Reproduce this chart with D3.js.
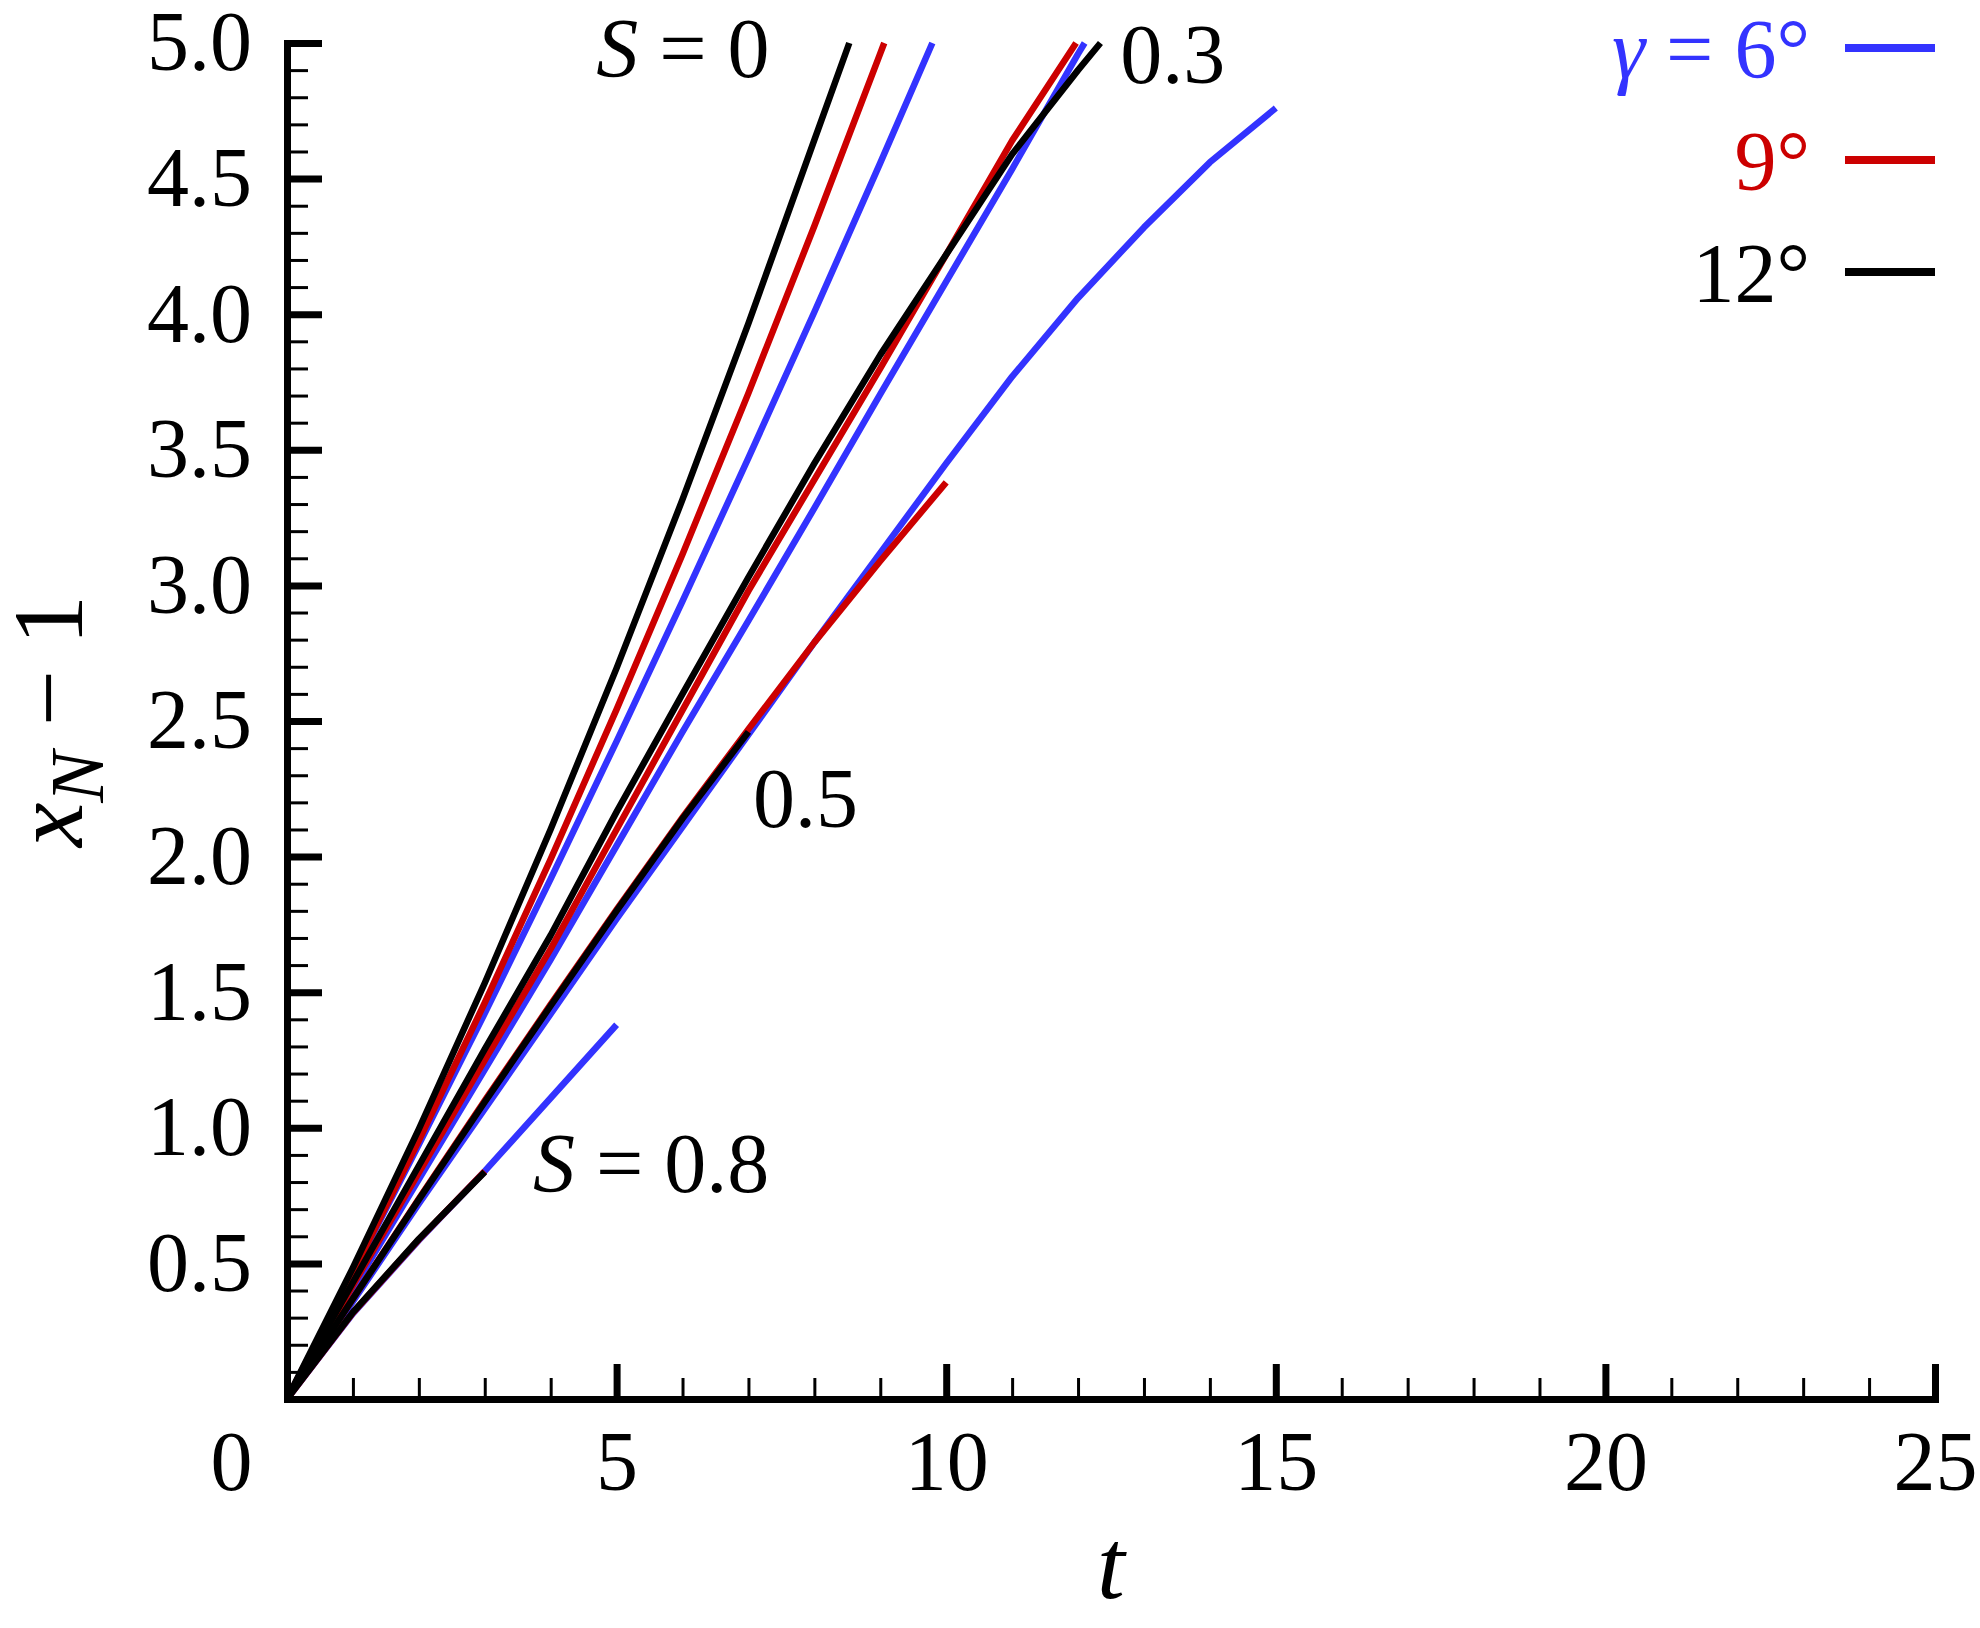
<!DOCTYPE html>
<html>
<head>
<meta charset="utf-8">
<script src="https://cdn.jsdelivr.net/npm/d3@7"></script>
<style>
  body { margin: 0; background: #fff; }
  svg { display: block; font-family: "Liberation Serif", "Times New Roman", serif; }
</style>
</head>
<body>
<div id="chart-area"></div>
<script>
// series values: [t, xN - 1]
const s0Gamma6 = [[0,0],[1,0.463],[2,0.938],[3,1.422],[4,1.918],[5,2.425],[6,2.942],[7,3.47],[8,4.008],[9,4.558],[9.79,5.0]]
const s0Gamma9 = [[0,0],[1,0.466],[2,0.953],[3,1.461],[4,1.991],[5,2.543],[6,3.115],[7,3.709],[8,4.325],[9,4.962],[9.06,5.0]]
const s0Gamma12 = [[0,0],[1,0.484],[2,0.995],[3,1.534],[4,2.101],[5,2.695],[6,3.317],[7,3.966],[8,4.643],[8.53,5.0]]

const s03Gamma6 = [[0,0],[1,0.405],[2,0.81],[3,1.215],[4,1.62],[5,2.04],[6,2.46],[7,2.87],[8,3.285],[9,3.705],[10,4.12],[11,4.535],[12,4.96],[12.1,5.0]]
const s03Gamma9 = [[0,0],[1,0.42],[2,0.835],[3,1.25],[4,1.66],[5,2.1],[6,2.54],[7,2.98],[8,3.39],[9,3.8],[10,4.22],[11,4.64],[11.97,5.0]]
const s03Gamma12 = [[0,0],[1,0.43],[2,0.86],[3,1.29],[4,1.71],[5,2.165],[6,2.6],[7,3.03],[8,3.45],[9,3.85],[10,4.22],[11,4.59],[12,4.9],[12.34,5.0]]

const s05Gamma6 = [[0,0],[1,0.36],[2,0.72],[3,1.07],[4,1.42],[5,1.77],[6,2.11],[7,2.45],[8,2.79],[9,3.12],[10,3.45],[11,3.77],[12,4.06],[13,4.32],[14,4.56],[15,4.76]]
const s05Gamma9 = [[0,0],[1,0.37],[2,0.738],[3,1.1],[4,1.455],[5,1.805],[6,2.145],[7,2.47],[8,2.79],[9,3.09],[10,3.38]]
const s05Gamma12 = [[0,0],[1,0.37],[2,0.735],[3,1.095],[4,1.45],[5,1.8],[6,2.14],[7,2.46]]

const s08Gamma6 = [[0,0],[1,0.315],[2,0.585],[3,0.84],[4,1.11],[5,1.38]]
const s08Gamma9 = [[0,0],[1,0.318],[2,0.588],[3,0.84]]
const s08Gamma12 = [[0,0],[1,0.32],[2,0.59],[3,0.837]]

const gammas = [6, 9, 12]
const xMajorTicks = [0, 5, 10, 15, 20, 25]
const yMajorTicks = [0.5, 1.0, 1.5, 2.0, 2.5, 3.0, 3.5, 4.0, 4.5, 5.0]

// S labels placed in data coordinates
const sLabels = [
  { s: "S", rest: " = 0", t: 4.69, v: 4.875 },
  { s: "", rest: "0.3", t: 12.64, v: 4.853 },
  { s: "", rest: "0.5", t: 7.07, v: 2.109 },
  { s: "S", rest: " = 0.8", t: 3.73, v: 0.763 }
]

const colorOf = { 6: "#3333ff", 9: "#cc0000", 12: "#000000" }

const series = [
  { gamma: 6, values: s0Gamma6 }, { gamma: 6, values: s03Gamma6 },
  { gamma: 6, values: s05Gamma6 }, { gamma: 6, values: s08Gamma6 },
  { gamma: 9, values: s0Gamma9 }, { gamma: 9, values: s03Gamma9 },
  { gamma: 9, values: s05Gamma9 }, { gamma: 9, values: s08Gamma9 },
  { gamma: 12, values: s0Gamma12 }, { gamma: 12, values: s03Gamma12 },
  { gamma: 12, values: s05Gamma12 }, { gamma: 12, values: s08Gamma12 }
]

function drawChart() {
  const svgWidth = 1980
  const svgHeight = 1628
  const margin = { left: 287, right: 45, top: 43, bottom: 229 }
  const chartWidth = svgWidth - margin.left - margin.right
  const chartHeight = svgHeight - margin.top - margin.bottom

  const svg = d3.select("#chart-area")
    .append("svg")
    .attr("width", svgWidth)
    .attr("height", svgHeight)

  const chart = svg.append("g")
    .attr("transform", `translate(${margin.left},${margin.top})`)

  const xScale = d3.scaleLinear().domain([0, 25]).range([0, chartWidth])
  const yScale = d3.scaleLinear().domain([0, 5]).range([chartHeight, 0])

  const lineGenerator = d3.line()
    .x(d => xScale(d[0]))
    .y(d => yScale(d[1]))

  chart.selectAll(".series")
    .data(series)
    .join("path")
    .attr("class", "series")
    .attr("d", d => lineGenerator(d.values))
    .attr("fill", "none")
    .attr("stroke", d => colorOf[d.gamma])
    .attr("stroke-width", 6.5)
    .attr("stroke-linejoin", "round")

  // minor ticks
  const xMinor = d3.range(1, 25).filter(v => v % 5 !== 0)
  const yMinor = d3.range(1, 50).map(v => v / 10).filter((v, i) => (i + 1) % 5 !== 0)

  chart.append("g")
    .attr("transform", `translate(0,${chartHeight})`)
    .call(d3.axisBottom(xScale).tickValues(xMinor).tickSize(-21).tickSizeOuter(0).tickFormat(""))
    .call(g => g.select(".domain").remove())
    .call(g => g.selectAll("line").attr("stroke", "#000").attr("stroke-width", 3))

  chart.append("g")
    .call(d3.axisLeft(yScale).tickValues(yMinor).tickSize(-21).tickSizeOuter(0).tickFormat(""))
    .call(g => g.select(".domain").remove())
    .call(g => g.selectAll("line").attr("stroke", "#000").attr("stroke-width", 3))

  // major ticks + labels
  const xAxis = chart.append("g")
    .attr("transform", `translate(0,${chartHeight})`)
    .call(d3.axisBottom(xScale).tickValues(xMajorTicks).tickSize(-35).tickSizeOuter(0).tickPadding(31))
  xAxis.select(".domain").attr("stroke", "#000").attr("stroke-width", 7).attr("stroke-linecap", "square")
  xAxis.selectAll("line").attr("stroke", "#000").attr("stroke-width", 7)
  xAxis.selectAll("text")
    .attr("font-family", "Liberation Serif, Times New Roman, serif")
    .attr("font-size", 84)
    .attr("fill", "#000")
  xAxis.selectAll(".tick").filter(d => d === 0).select("text")
    .attr("x", -35).attr("text-anchor", "end")

  const yAxis = chart.append("g")
    .call(d3.axisLeft(yScale).tickValues(yMajorTicks).tickSize(-35).tickSizeOuter(0).tickPadding(35).tickFormat(d3.format(".1f")))
  yAxis.select(".domain").attr("stroke", "#000").attr("stroke-width", 7).attr("stroke-linecap", "square")
  yAxis.selectAll("line").attr("stroke", "#000").attr("stroke-width", 7)
  yAxis.selectAll("text")
    .attr("font-family", "Liberation Serif, Times New Roman, serif")
    .attr("font-size", 84)
    .attr("fill", "#000")

  // axis titles
  chart.append("text")
    .attr("x", chartWidth / 2)
    .attr("y", chartHeight + 199)
    .attr("text-anchor", "middle")
    .attr("font-size", 100)
    .attr("font-style", "italic")
    .text("t")

  const yTitle = chart.append("text")
    .attr("transform", `translate(${82 - margin.left},${chartHeight / 2}) rotate(-90)`)
    .attr("text-anchor", "middle")
    .attr("font-size", 100)
  yTitle.append("tspan").attr("font-style", "italic").text("x")
  yTitle.append("tspan").attr("font-style", "italic").attr("font-size", 77).attr("dy", 21).text("N")
  yTitle.append("tspan").attr("dy", -21).text(" \u2212 1")

  // S annotations
  const ann = chart.selectAll(".s-label")
    .data(sLabels)
    .join("text")
    .attr("class", "s-label")
    .attr("x", d => xScale(d.t))
    .attr("y", d => yScale(d.v))
    .attr("font-size", 84)
  ann.append("tspan").attr("font-style", "italic").text(d => d.s)
  ann.append("tspan").text(d => d.rest)

  // legend
  const legendText = { 6: ["\u03b3", " = 6\u00b0"], 9: ["", "9\u00b0"], 12: ["", "12\u00b0"] }
  const legend = chart.selectAll(".legend")
    .data(gammas)
    .join("g")
    .attr("class", "legend")
    .attr("transform", (d, i) => `translate(0,${35 + i * 112})`)

  const lt = legend.append("text")
    .attr("x", chartWidth - 125)
    .attr("y", 0)
    .attr("text-anchor", "end")
    .attr("font-size", 84)
    .attr("fill", d => colorOf[d])
  lt.append("tspan").attr("font-style", "italic").text(d => legendText[d][0])
  lt.append("tspan").text(d => legendText[d][1])

  legend.append("line")
    .attr("x1", chartWidth - 90)
    .attr("x2", chartWidth)
    .attr("y1", -30)
    .attr("y2", -30)
    .attr("stroke", d => colorOf[d])
    .attr("stroke-width", 8)
}

drawChart()
</script>
</body>
</html>
